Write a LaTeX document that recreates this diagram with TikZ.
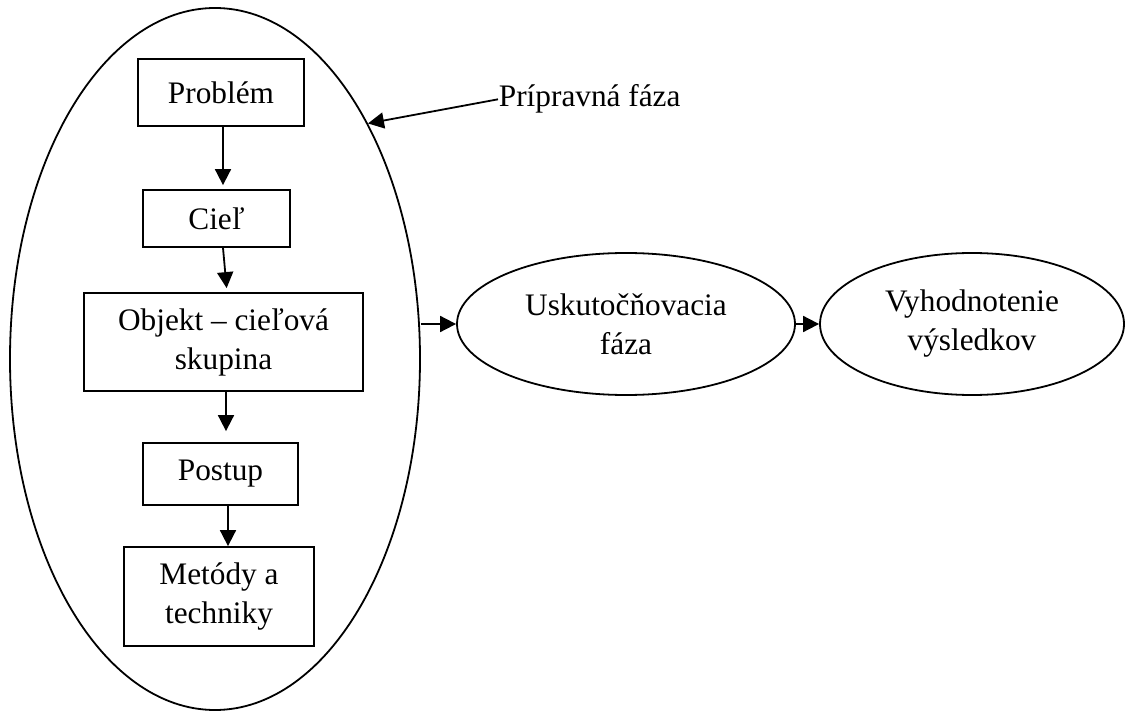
\documentclass[tikz,border=0pt]{standalone}
\usepackage{fontspec}
\setmainfont{Liberation Serif}
\usetikzlibrary{shapes.geometric,arrows.meta}
\begin{document}
\begin{tikzpicture}[x=0.5pt,y=-0.5pt,
  line width=0.9pt,
  every node/.style={font=\fontsize{15.65pt}{19.5pt}\selectfont, align=center, inner sep=0pt},
  stepbox/.style={draw, rectangle},
  phase/.style={draw, ellipse},
  flow/.style={-{Triangle[length=8pt,width=8pt]}},
]
\useasboundingbox (0,0) rectangle (1125,711);

% preparatory phase: large ellipse holding the steps
\node[phase, minimum width=205pt, minimum height=351pt] (prep) at (215,359) {};

\node[stepbox, minimum width=83pt,  minimum height=33.5pt] (prob) at (221,92.5)  {Problém};
\node[stepbox, minimum width=73.5pt, minimum height=28.5pt] (ciel) at (216.5,218.5) {Cieľ};
\node[stepbox, minimum width=139.5pt, minimum height=49pt] (obj)  at (223.5,342) {Objekt – cieľová\\skupina};
\node[stepbox, minimum width=77.5pt, minimum height=31pt]   (post) at (220.5,474) {Postup};
\node[stepbox, minimum width=95pt,  minimum height=49.5pt] (met)  at (219,596.5) {Metódy a\\techniky};

\draw[flow, shorten >=2pt] ([xshift=1pt]prob.south) -- ([xshift=1pt]prob.south |- ciel.north);
\draw[flow, shorten >=2pt] ([xshift=3.25pt]ciel.south) -- ([xshift=1.75pt]obj.north);
\draw[flow, shorten >=5.5pt] ([xshift=1.25pt]obj.south) -- ([xshift=1.25pt]obj.south |- post.north);
\draw[flow] ([xshift=3.75pt]post.south) -- ([xshift=3.75pt]post.south |- met.north);

% label of the preparatory phase
\node[anchor=base west] (lab) at (498,107) {Prípravná fáza};
\draw[flow] (lab.west) -- (prep.57.9);

% later phases
\node[phase, minimum width=169pt, minimum height=71pt] (usk) at (626,324) {Uskutočňovacia\\fáza};
\node[phase, minimum width=152pt, minimum height=71pt] (viy) at (972,324) {Vyhodnotenie\\výsledkov};

\draw[flow] (usk.west -| prep.east) -- (usk.west);
\draw[flow] (usk.east) -- (viy.west);
\end{tikzpicture}
\end{document}
